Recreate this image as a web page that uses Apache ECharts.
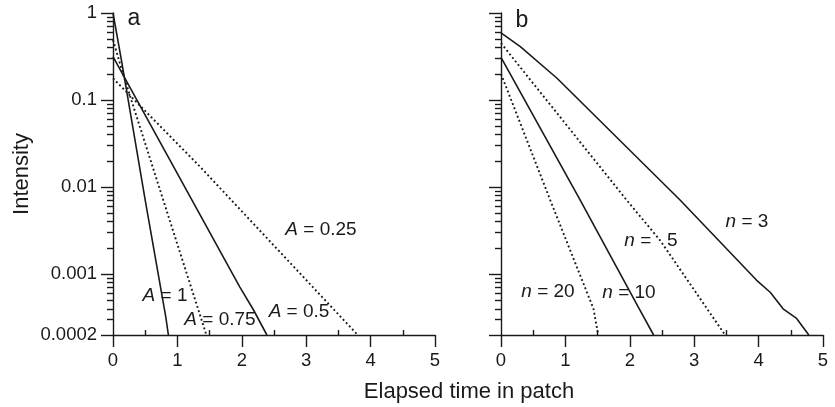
<!DOCTYPE html>
<html>
<head>
<meta charset="utf-8">
<script src="https://cdn.jsdelivr.net/npm/echarts@6/dist/echarts.min.js"></script>
<style>
  html, body { margin: 0; background: #fff; }
  #chart { width: 835px; height: 407px; }
</style>
</head>
<body>
<div id="chart"></div>
<script>
// Values: [elapsed time, intensity]
const aA1 = [[0, 1], [0.13, 0.29], [0.5, 0.0071], [0.82, 0.00032], [0.86, 0.0002]];
const aA075 = [[0, 0.49], [0.16, 0.195], [0.78, 0.0071], [1.45, 0.0002]];
const aA05 = [[0, 0.315], [1.97, 0.00071], [2.18, 0.00039], [2.39, 0.0002]];
const aA025 = [[0, 0.178], [1.35, 0.0172], [3.8, 0.0002]];

const bN3 = [[0, 0.59], [0.3, 0.41], [0.87, 0.178], [2.78, 0.0071], [3.97, 0.00085], [4.18, 0.00062], [4.38, 0.0004], [4.59, 0.00031], [4.78, 0.0002]];
const bN5 = [[0, 0.45], [1.95, 0.0071], [2.47, 0.00245], [3.48, 0.0002]];
const bN10 = [[0, 0.31], [1.23, 0.0071], [2.13, 0.00042], [2.37, 0.0002]];
const bN20 = [[0, 0.2], [0.764, 0.0071], [1.436, 0.0004], [1.51, 0.0002]];

// Tick values
const xMinor = [0.5, 1.5, 2.5, 3.5, 4.5];
const yTicks = [0.0002, 0.001, 0.01, 0.1, 1];
const yMinor = [
    0.0003, 0.0004, 0.0005, 0.0006, 0.0007, 0.0008, 0.0009,
    0.002, 0.003, 0.004, 0.005, 0.006, 0.007, 0.008, 0.009,
    0.02, 0.03, 0.04, 0.05, 0.06, 0.07, 0.08, 0.09,
    0.2, 0.3, 0.4, 0.5, 0.6, 0.7, 0.8, 0.9
];

const font = 'Liberation Sans, Arial, Helvetica, sans-serif';
const ink = '#1a1a1a';
const axisStyle = { color: ink, width: 1.4 };

function xAxes(g) {
    return [{
        gridIndex: g, type: 'value', min: 0, max: 5, interval: 1, position: 'bottom',
        axisLine: { onZero: false, lineStyle: axisStyle },
        axisTick: { length: 12, lineStyle: axisStyle },
        axisLabel: { margin: 16, fontSize: 18.5, color: ink, fontFamily: font },
        splitLine: { show: false }
    }, {
        gridIndex: g, type: 'value', min: 0, max: 5, position: 'bottom',
        axisLine: { show: false },
        axisTick: { inside: true, length: 5, customValues: xMinor, lineStyle: axisStyle },
        axisLabel: { show: false },
        splitLine: { show: false }
    }];
}

function yAxes(g, labels) {
    return [{
        gridIndex: g, type: 'log', min: 0.0002, max: 1, position: 'left',
        name: labels ? 'Intensity' : '', nameLocation: 'middle', nameGap: 80,
        nameTextStyle: { fontSize: 22, color: ink, fontFamily: font },
        axisLine: { onZero: false, lineStyle: axisStyle },
        axisTick: { length: 12, customValues: yTicks, lineStyle: axisStyle },
        axisLabel: {
            show: labels, customValues: yTicks, margin: 16, fontSize: 18.5, color: ink, fontFamily: font,
            formatter: v => String(+Number(v).toPrecision(6))
        },
        splitLine: { show: false }
    }, {
        gridIndex: g, type: 'log', min: 0.0002, max: 1, position: 'left',
        axisLine: { show: false },
        axisTick: { length: 6, customValues: yMinor, lineStyle: axisStyle },
        axisLabel: { show: false },
        splitLine: { show: false }
    }];
}

function line(data, g, dotted) {
    return {
        type: 'line', data: data, xAxisIndex: g * 2, yAxisIndex: g * 2,
        showSymbol: false, silent: true, animation: false,
        lineStyle: dotted
            ? { color: ink, width: 1.9, type: [1.9, 2.6], cap: 'butt' }
            : { color: ink, width: 1.6 }
    };
}

// Curve labels and panel letters
const notes = [
    { text: '{i|A} = 0.25', x: 321, y: 230 },
    { text: '{i|A} = 1', x: 165, y: 296 },
    { text: '{i|A} = 0.75', x: 220, y: 320 },
    { text: '{i|A} = 0.5', x: 299, y: 312 },
    { text: '{i|n} = 3', x: 747, y: 222 },
    { text: '{i|n} =   5', x: 651, y: 241 },
    { text: '{i|n} = 20', x: 548, y: 292 },
    { text: '{i|n} = 10', x: 629, y: 293 }
];

const graphic = notes.map(n => ({
    type: 'text', x: n.x, y: n.y, silent: true,
    style: {
        text: n.text, fill: ink, font: '19px ' + font, align: 'center', verticalAlign: 'middle',
        rich: { i: { fontStyle: 'italic', fontSize: 19, fontFamily: font, fill: ink } }
    }
}));
graphic.push(
    { type: 'text', x: 134, y: 19, style: { text: 'a', fill: ink, font: '23px ' + font, align: 'center', verticalAlign: 'middle' } },
    { type: 'text', x: 522, y: 21, style: { text: 'b', fill: ink, font: '23px ' + font, align: 'center', verticalAlign: 'middle' } },
    { type: 'text', x: 469, y: 392, style: { text: 'Elapsed time in patch', fill: ink, font: '22px ' + font, align: 'center', verticalAlign: 'middle' } }
);

const myChart = echarts.init(document.getElementById('chart'));
myChart.setOption({
    animation: false,
    grid: [
        { left: 113, top: 13, width: 322, height: 322 },
        { left: 501, top: 13, width: 322, height: 322 }
    ],
    xAxis: [...xAxes(0), ...xAxes(1)],
    yAxis: [...yAxes(0, true), ...yAxes(1, false)],
    series: [
        line(aA1, 0, false),
        line(aA075, 0, true),
        line(aA05, 0, false),
        line(aA025, 0, true),
        line(bN3, 1, false),
        line(bN5, 1, true),
        line(bN10, 1, false),
        line(bN20, 1, true)
    ],
    graphic: graphic
});
</script>
</body>
</html>
